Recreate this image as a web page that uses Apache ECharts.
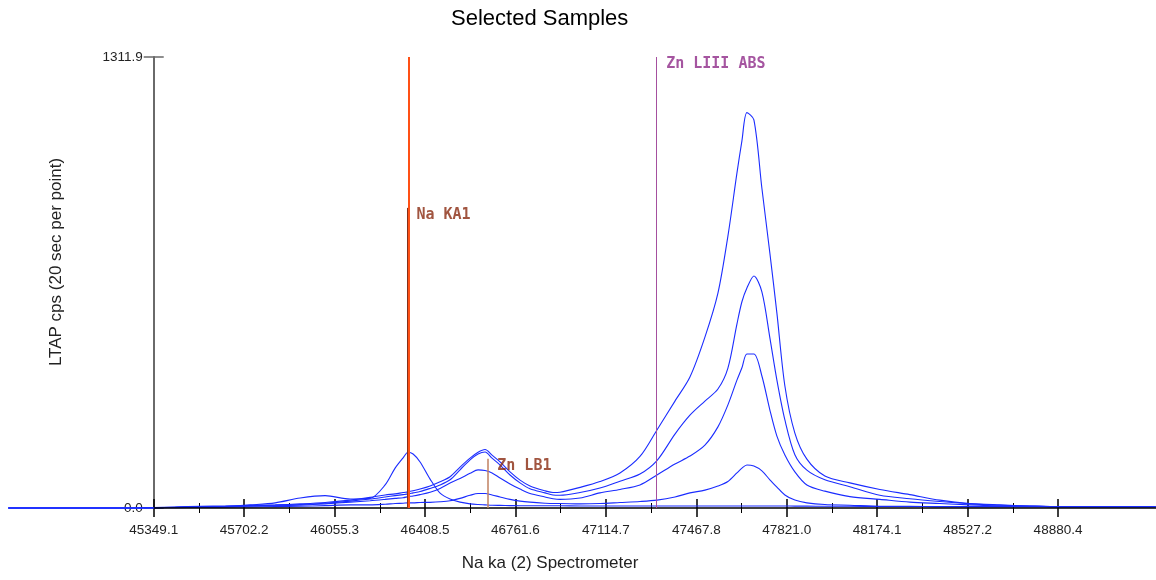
<!DOCTYPE html>
<html>
<head>
<meta charset="utf-8">
<script src="https://cdn.jsdelivr.net/npm/echarts@6/dist/echarts.min.js"></script>
<style>
html,body{margin:0;padding:0;background:#ffffff;}
#chart{width:1156px;height:580px;}
</style>
</head>
<body>
<div id="chart"></div>
<script>
// ---------- data ----------
const xs = [44781.2, 44984.2, 45140.3, 45257.4, 45347.1, 45433.0, 45530.6, 45628.2, 45725.7, 45823.3,
            45920.9, 46018.4, 46116.0, 46194.1, 46252.6, 46291.7, 46322.9, 46342.4, 46361.9, 46389.2,
            46428.3, 46467.3, 46506.3, 46545.3, 46584.4, 46615.6, 46642.9, 46670.2, 46701.5, 46740.5,
            46779.5, 46818.5, 46877.1, 46908.3, 46935.6, 47013.7, 47091.7, 47169.8, 47247.9, 47314.2,
            47384.5, 47443.0, 47501.5, 47552.3, 47591.3, 47626.5, 47646.0, 47665.5, 47692.8, 47724.0,
            47755.2, 47782.6, 47813.8, 47852.8, 47899.7, 47969.9, 48067.5, 48184.6, 48301.6, 48418.7,
            48535.8, 48652.9, 48770.0, 48887.1, 49043.2, 49261.8];

const sample1 = [0, 0, 0, 0, 1, 3, 5, 6, 7.5, 9,
                 12, 16, 23, 31, 38, 41, 45, 47, 50, 55,
                 64, 76, 91, 119, 145, 162, 170, 154, 134, 105,
                 81, 64, 50, 45, 46, 60, 77, 102, 150, 227,
                 311, 381, 497, 625, 791, 974, 1068, 1150, 1129, 930,
                 741, 567, 355, 218, 142, 93, 73, 54, 39, 23,
                 13, 9, 6, 4, 4, 4];

const sample2 = [0, 0, 0, 0, 1, 2, 4, 5, 6.5, 8,
                 10, 14, 20, 26, 32, 36, 39, 41, 44, 48,
                 57, 67, 82, 111, 140, 157, 163, 145, 125, 96,
                 73, 56, 44, 38, 37, 45, 58, 78, 99, 138,
                 215, 270, 311, 346, 407, 535, 600, 640, 675, 629,
                 495, 372, 256, 155, 110, 82, 62, 37, 27, 19,
                 12, 8, 6, 4, 4, 4];

const sample3 = [0, 0, 0, 0, 1, 2, 3, 4, 5, 6.5,
                 8.5, 12, 17, 21, 25, 28, 30, 33, 35, 39,
                 46, 57, 73, 86, 101, 111, 109, 102, 87, 70,
                 55, 42, 32, 27, 25, 29, 44, 54, 67, 96,
                 128, 151, 183, 236, 300, 372, 408, 448, 448, 384,
                 285, 209, 154, 105, 67, 49, 33, 25, 17, 13,
                 9, 6, 5, 4, 4, 4];

const sample4 = [0, 0, 0, 0, 1, 1.5, 2, 2.5, 3, 4,
                 5, 7, 9, 9, 11, 13, 14, 15, 15, 16,
                 16.5, 18, 21, 28, 37, 42, 42, 38, 32, 25,
                 20, 17, 14, 13, 13, 12, 13, 16, 19, 23,
                 32, 44, 52, 64, 77, 102, 116, 125, 122, 108,
                 82, 61, 38, 23, 15, 10, 8, 5, 5, 4,
                 4, 4, 4, 4, 4, 4];

const sampleNa = [0, 0, 0, 0, 0, 1, 2, 4, 9, 15,
                  29, 36, 26, 28, 67, 116, 146, 162, 157, 134,
                  84, 43, 26, 17, 12, 10, 9, 8, 7.5, 7,
                  6.5, 6.5, 6.5, 6.5, 6.5, 6, 6, 6, 6, 6,
                  6, 6, 6, 6, 6, 6, 6, 6, 6, 6,
                  6, 6, 6, 5.5, 5.5, 5, 5, 4.5, 4.5, 4,
                  4, 4, 4, 4, 4, 4];

const xTickLabels = [45349.1, 45702.2, 46055.3, 46408.5, 46761.6, 47114.7, 47467.8, 47821.0, 48174.1, 48527.2, 48880.4];
const xMinorTicks = [45525.7, 45878.8, 46231.9, 46585.0, 46938.2, 47291.3, 47644.4, 47997.5, 48350.7, 48703.8];
const yMin = 0;
const yMax = 1311.9;

const markerNames = ['Na KA1', 'Zn LB1', 'Zn LIII ABS'];
const markerPositions = [46337.7, 46653.5, 47313.0];
const markerTops = [873, 143, 1311.9];
const cursorPosition = 46343.6;

const X_MIN = 44780;
const X_MAX = 49263;

// ---------- layout / style ----------
const GRID = {left: 8, right: 0, top: 57, bottom: 72};
const plotW = 1156 - GRID.left - GRID.right;
const yAxisShift = (xTickLabels[0] - X_MIN) / (X_MAX - X_MIN) * plotW;
const FONT = '"Liberation Sans", Arial, sans-serif';
const MONO = '"DejaVu Sans Mono", "Liberation Mono", monospace';
const markerLineColors = ['#86301a', '#c08060', '#a5509f'];
const markerLabelColors = ['#8a2a10', '#8a2a10', '#8e2a88'];
const markerLineWidths = [1, 1.5, 1];

function pairs(ys) { return xs.map((x, i) => [x, ys[i]]); }

const chart = echarts.init(document.getElementById('chart'), null, {renderer: 'canvas'});

const curveStyle = {
  type: 'line', xAxisIndex: 0, yAxisIndex: 0, showSymbol: false, symbol: 'none',
  smooth: 0.3, clip: false, z: 3, silent: true,
  lineStyle: {color: '#1a2cff', width: 1.1}
};

const option = {
  animation: false,
  backgroundColor: '#ffffff',
  title: {
    text: 'Selected Samples', left: 451, top: 8, padding: 0,
    textStyle: {fontSize: 22, fontWeight: 'normal', color: '#000', fontFamily: FONT}
  },
  grid: {left: GRID.left, right: GRID.right, top: GRID.top, bottom: GRID.bottom, containLabel: false, outerBoundsMode: 'none'},
  xAxis: [
    {
      type: 'value', position: 'bottom', min: X_MIN, max: X_MAX,
      axisLine: {show: false}, axisTick: {show: false}, splitLine: {show: false},
      axisLabel: {customValues: xTickLabels, formatter: v => v.toFixed(1), color: '#222', fontSize: 13.5, fontFamily: FONT, margin: 15}
    },
    {
      type: 'value', position: 'bottom', offset: -9, min: X_MIN, max: X_MAX,
      axisLine: {show: false}, splitLine: {show: false}, axisLabel: {show: false},
      axisTick: {show: true, customValues: xTickLabels, length: 18, lineStyle: {color: '#000', width: 1.5}}
    },
    {
      type: 'value', position: 'bottom', offset: -5, min: X_MIN, max: X_MAX,
      axisLine: {show: false}, splitLine: {show: false}, axisLabel: {show: false},
      axisTick: {show: true, customValues: xMinorTicks, length: 10, lineStyle: {color: '#000', width: 1}}
    }
  ],
  yAxis: [
    {
      type: 'value', position: 'left', offset: -yAxisShift, min: yMin, max: yMax, interval: yMax - yMin,
      axisLine: {show: true, lineStyle: {color: '#6a6a6a', width: 2}},
      axisTick: {show: false}, splitLine: {show: false},
      axisLabel: {formatter: v => v.toFixed(1), color: '#222', fontSize: 13.5, fontFamily: FONT, margin: 11}
    },
    {
      type: 'value', position: 'left', offset: -(yAxisShift + 10), min: yMin, max: yMax, interval: yMax - yMin,
      axisLine: {show: false}, splitLine: {show: false}, axisLabel: {show: false},
      axisTick: {show: true, length: 20, lineStyle: {color: '#6a6a6a', width: 1.5}}
    }
  ],
  graphic: [
    {type: 'text', x: 56, y: 262, rotation: Math.PI / 2,
     style: {text: 'LTAP cps (20 sec per point)', fill: '#222', font: '17px ' + FONT, align: 'center', verticalAlign: 'middle'}},
    {type: 'text', x: 550, y: 563,
     style: {text: 'Na ka (2) Spectrometer', fill: '#222', font: '17px ' + FONT, align: 'center', verticalAlign: 'middle'}}
  ],
  series: [
    {
      name: 'axis', type: 'line', xAxisIndex: 0, yAxisIndex: 0, data: [[xTickLabels[0], 0]],
      symbol: 'none', lineStyle: {opacity: 0}, clip: false, z: 1, silent: true,
      markLine: {
        silent: true, symbol: 'none', animation: false, label: {show: false},
        lineStyle: {color: '#000', width: 1.5, type: 'solid'},
        data: [[{coord: [xTickLabels[0], 0]}, {coord: [X_MAX, 0]}]]
      }
    },
    Object.assign({}, curveStyle, {name: 'Sample 1', data: pairs(sample1)}),
    Object.assign({}, curveStyle, {name: 'Sample 2', data: pairs(sample2)}),
    Object.assign({}, curveStyle, {name: 'Sample 3', data: pairs(sample3)}),
    Object.assign({}, curveStyle, {name: 'Sample 4', data: pairs(sample4)}),
    Object.assign({}, curveStyle, {name: 'Na sample', data: pairs(sampleNa)}),
    {
      name: 'markers', type: 'scatter', xAxisIndex: 0, yAxisIndex: 0, z: 5, silent: true, clip: false,
      symbolSize: 1, itemStyle: {color: 'rgba(0,0,0,0)'},
      data: markerPositions.map((x, i) => ({
        value: [x, markerTops[i]], name: markerNames[i],
        label: {color: markerLabelColors[i]}
      })),
      label: {
        show: true, formatter: '{b}', position: [10, 0], align: 'left', verticalAlign: 'top',
        fontFamily: MONO, fontWeight: 'bold', fontSize: 15
      },
      markLine: {
        silent: true, symbol: 'none', animation: false, label: {show: false},
        data: markerPositions.map((x, i) => [
          {coord: [x, 0], lineStyle: {color: markerLineColors[i], width: markerLineWidths[i], type: 'solid'}},
          {coord: [x, markerTops[i]]}
        ]).concat([[
          {coord: [cursorPosition, 0], lineStyle: {color: '#ff5015', width: 2, type: 'solid'}},
          {coord: [cursorPosition, yMax]}
        ]])
      }
    }
  ]
};

chart.setOption(option);
</script>
</body>
</html>
